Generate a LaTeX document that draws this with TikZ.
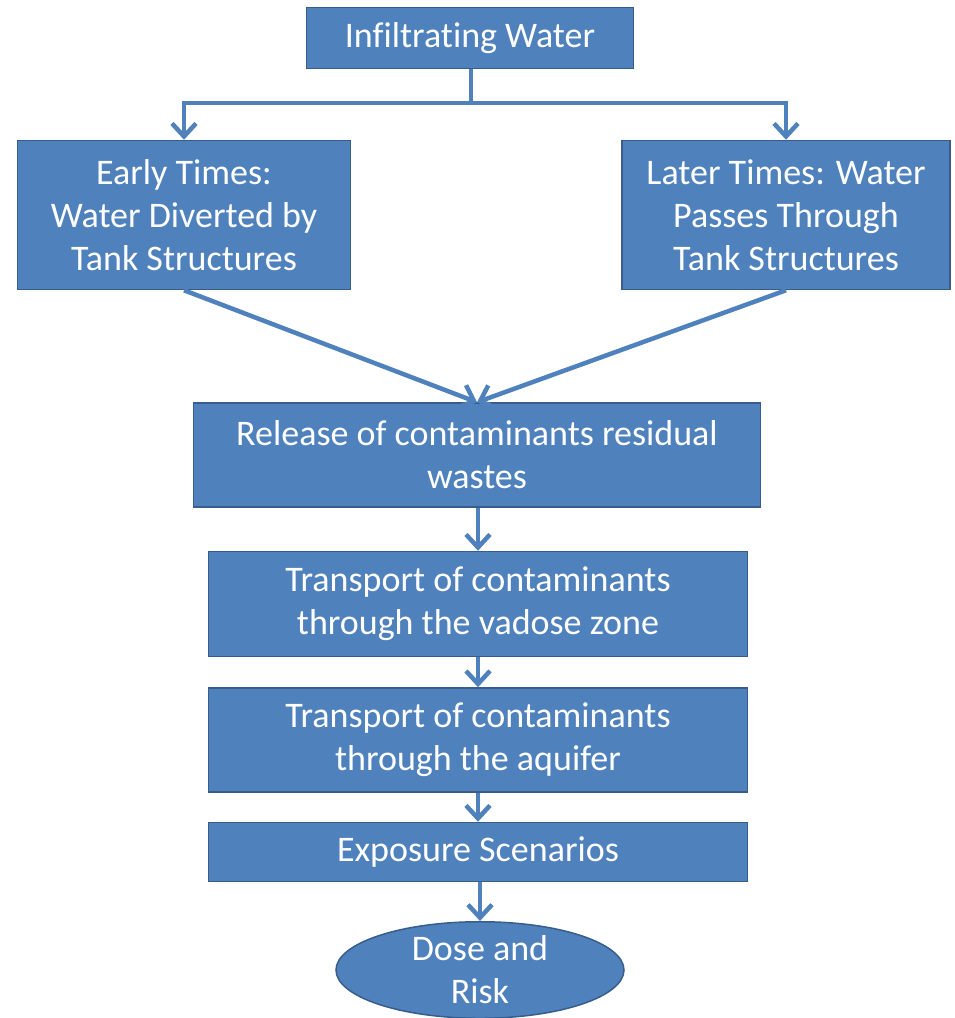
\documentclass[tikz,border=0pt]{standalone}
\usepackage{fontspec}
\setmainfont{Carlito}[Ligatures={NoCommon,NoRare}]
\usetikzlibrary{arrows.meta,shapes.geometric}
\definecolor{boxfill}{HTML}{4F81BD}
\definecolor{boxedge}{HTML}{385D8A}
\begin{document}
\begin{tikzpicture}[x=1pt,y=-1pt,
  box/.style={draw=boxedge,line width=1.5pt,fill=boxfill,text=white,inner sep=0pt,
    font=\fontsize{36}{43}\selectfont,align=center},
  conn/.style={draw=boxfill,line width=4.5pt},
  arr/.style={conn,-{Straight Barb[length=13pt,width=24pt,line width=4.5pt]}}]
\useasboundingbox (0,0) rectangle (954,1018);
\node[box,minimum width=327pt,minimum height=61pt] (top) at (470,38) {\raisebox{-3pt}{Infiltrating Water}};
\node[box,minimum width=333pt,minimum height=149pt] (early) at (184,215) {Early Times:\\Water Diverted by\\Tank Structures};
\node[box,minimum width=328pt,minimum height=149pt] (later) at (786,215) {Later Times: Water\\Passes Through\\Tank Structures};
\node[box,minimum width=567pt,minimum height=104pt] (release) at (477,455) {Release of contaminants residual\\wastes};
\node[box,minimum width=539pt,minimum height=105pt] (vadose) at (478,604) {Transport of contaminants\\through the vadose zone};
\node[box,minimum width=539pt,minimum height=104pt] (aquifer) at (478,740) {Transport of contaminants\\through the aquifer};
\node[box,minimum width=539pt,minimum height=59pt] (exposure) at (478,852) {\raisebox{-3pt}{Exposure Scenarios}};
\node[box,ellipse,minimum width=288pt,minimum height=95pt] (dose) at (480,970) {Dose and\\Risk};
\coordinate (split) at (471,103);
\draw[conn] (top.south -| split) -- (split);
\draw[arr] (split) -| (early.north);
\draw[arr] (split) -| (later.north);
\draw[arr] (early.south) -- (release.north);
\draw[arr] (later.south) -- (release.north);
\draw[arr] (release.south -| vadose.north) -- (vadose.north);
\draw[arr] (vadose.south) -- (aquifer.north);
\draw[arr] (aquifer.south) -- (exposure.north);
\draw[arr] (exposure.south -| dose.north) -- (dose.north);
\end{tikzpicture}
\end{document}
